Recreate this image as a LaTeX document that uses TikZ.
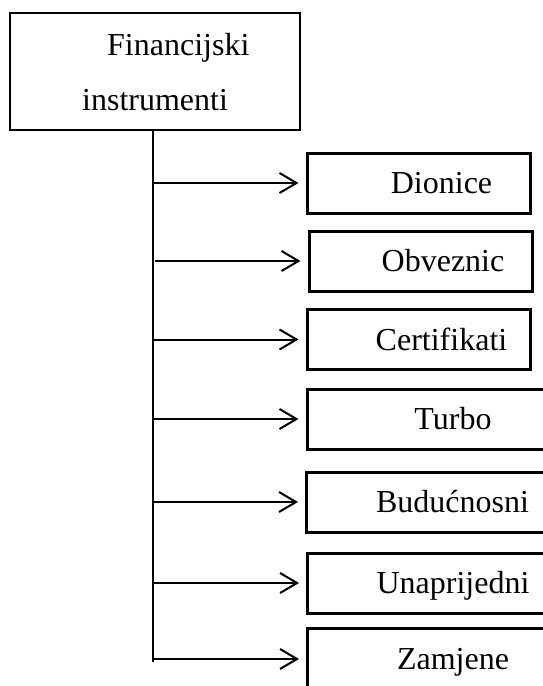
\documentclass[tikz,border=0pt]{standalone}
\usepackage{fontspec}
\setmainfont{Liberation Serif}
\usetikzlibrary{arrows.meta,positioning}
\tikzset{
    raw inst box/.style={rectangle, draw, black, line width=3pt, inner sep=0pt, text height=21pt, text depth=0pt, font=\fontsize{32}{38}\selectfont},
    inst box/.style={raw inst box, minimum width=223pt, minimum height=60pt},
    inst wide/.style={raw inst box, minimum width=246pt, minimum height=60pt},
    root box/.style={rectangle, draw, black, line width=2.8pt, minimum width=290pt, minimum height=117pt},
    root text/.style={anchor=base west, inner sep=0pt, font=\fontsize{32}{38}\selectfont},
    branch/.style={-{Straight Barb[length=17pt,width=20pt]}, line width=2pt, shorten >=7pt}
}
\begin{document}
\begin{tikzpicture}[x=1pt,y=-1pt]
	\clip (0,0) rectangle (543,686);
	\node[root box] (fin) at (155,71.5) {};
	\node[root text] (fin1) at (107,55) {Financijski};
	\node[root text] (fin2) at (82,110) {instrumenti};
	\node[inst box] (dio) at (418.5,183) {\hspace*{46pt}Dionice};
	\node[inst box] (obv) at (420.5,261) {\hspace*{45pt}Obveznic};
	\node[inst box] (cert) at (418.5,339.5) {\hspace*{46pt}Certifikati};
	\node[inst wide] (turbo) at (430,419) {\hspace*{46pt}Turbo};
	\node[inst wide] (bud) at (429.5,502) {\hspace*{46pt}Budućnosni};
	\node[inst wide] (unap) at (430.5,583) {\hspace*{45pt}Unaprijedni};
	\node[inst wide, minimum height=62pt] (zam) at (430.5,659) {\hspace*{45pt}Zamjene};
	\coordinate (trunk) at (153,662);
	\draw[line width=2pt] (fin.south -| trunk) -- (trunk);
	\foreach \n in {dio,cert,turbo,bud,unap,zam}
		\draw[branch] (\n -| trunk) -- (\n.west);
	\draw[branch] ([xshift=2pt]obv -| trunk) -- (obv.west);
\end{tikzpicture}
\end{document}
